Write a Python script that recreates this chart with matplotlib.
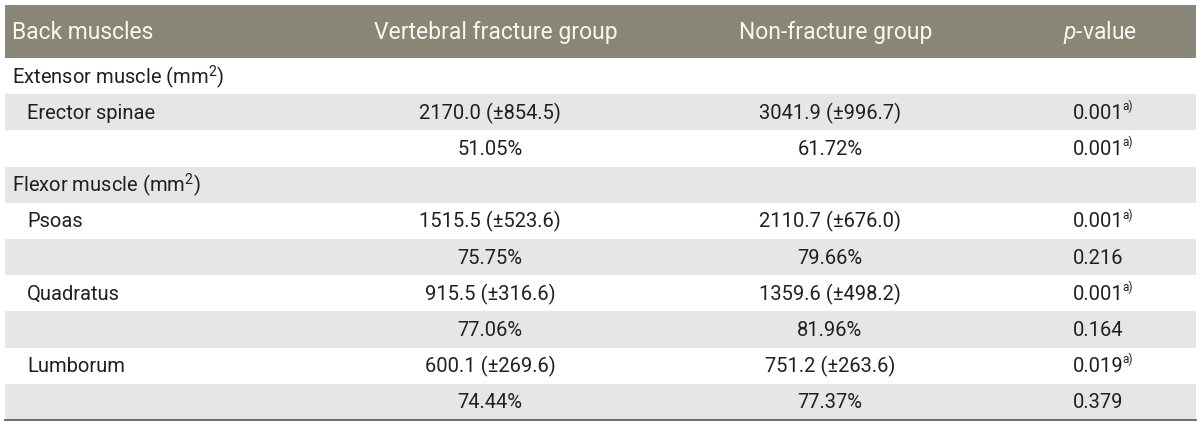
import matplotlib
matplotlib.use("Agg")
import matplotlib.pyplot as plt
from matplotlib.patches import Rectangle

plt.rcParams['font.family'] = ['Roboto', 'DejaVu Sans']
plt.rcParams['mathtext.fontset'] = 'custom'
plt.rcParams['mathtext.rm'] = 'Roboto'
plt.rcParams['mathtext.it'] = 'Roboto:italic'

# table content
header = ["Back muscles", "Vertebral fracture group", "Non-fracture group", "$\\it{p}$-value"]
row_labels = ["Extensor muscle (mm$^{\\mathregular{2}}$)", "Erector spinae", "",
              "Flexor muscle (mm$^{\\mathregular{2}}$)", "Psoas", "",
              "Quadratus", "", "Lumborum", ""]
row_indent = [False, True, True, False, True, True, True, True, True, True]
fracture_vals = ["", "2170.0 (\u00b1854.5)", "51.05%",
                 "", "1515.5 (\u00b1523.6)", "75.75%",
                 "915.5 (\u00b1316.6)", "77.06%", "600.1 (\u00b1269.6)", "74.44%"]
nonfracture_vals = ["", "3041.9 (\u00b1996.7)", "61.72%",
                    "", "2110.7 (\u00b1676.0)", "79.66%",
                    "1359.6 (\u00b1498.2)", "81.96%", "751.2 (\u00b1263.6)", "77.37%"]
p_vals = ["", "0.001", "0.001", "", "0.001", "0.216", "0.001", "0.164", "0.019", "0.379"]
p_notes = ["", "a)", "a)", "", "a)", "", "a)", "", "a)", ""]

# layout (pixels)
W, H = 1200, 429
left, right = 5, 1196
head_top, head_bot = 5, 58
row_h = 36.2
header_x = [12, 496, 836, 1100]
data_x = [490, 830, 1098]
header_color = "#8a8677"
band_color = "#e6e6e6"
text_color = "#231f20"

fig = plt.figure(figsize=(W / 100, H / 100), dpi=100)
ax = fig.add_axes([0, 0, 1, 1])
ax.set_xlim(0, W)
ax.set_ylim(H, 0)
ax.axis("off")

# header
ax.add_patch(Rectangle((left, head_top), right - left, head_bot - head_top,
                       facecolor=header_color, edgecolor="none"))
for i, txt in enumerate(header):
    ax.text(header_x[i], (head_top + head_bot) / 2 + 1, txt, color="#f7f7f2",
            fontsize=16.5, ha="left" if i == 0 else "center", va="center")

# body
for r in range(len(row_labels)):
    y0 = head_bot + r * row_h
    yc = y0 + row_h / 2 + 1
    if r % 2 == 1:
        ax.add_patch(Rectangle((left, y0), right - left, row_h,
                               facecolor=band_color, edgecolor="none"))
    ax.text(27 if row_indent[r] else 12, yc, row_labels[r], color=text_color,
            fontsize=14.5, ha="left", va="center")
    ax.text(data_x[0], yc, fracture_vals[r], color=text_color,
            fontsize=14.5, ha="center", va="center")
    ax.text(data_x[1], yc, nonfracture_vals[r], color=text_color,
            fontsize=14.5, ha="center", va="center")
    t = ax.text(data_x[2], yc, p_vals[r], color=text_color,
                fontsize=14.5, ha="center", va="center")
    if p_notes[r]:
        ax.annotate(p_notes[r], xy=(1.0, 1.0), xycoords=t, xytext=(-0.5, 3),
                    textcoords="offset points", color=text_color,
                    fontsize=8.5, ha="left", va="top")

ax.plot([left, right], [head_bot + len(row_labels) * row_h] * 2,
        color="#555555", lw=1.2)

fig.savefig("out.png", dpi=100)
